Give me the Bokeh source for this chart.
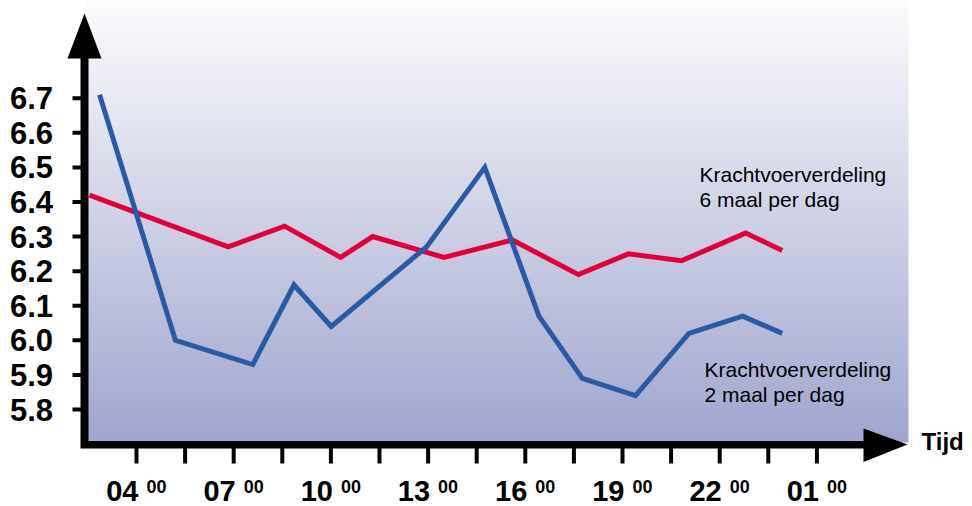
import numpy as np
from bokeh.plotting import figure
from bokeh.models import Range1d
from bokeh.core.properties import value
from bokeh.embed import file_html
from bokeh.resources import INLINE

# ---------------- data ----------------
hours_blue = [2.86, 5.20, 7.59, 8.86, 10.01, 12.95, 14.75, 16.42, 17.76, 19.40, 21.05, 22.71, 23.93]
values_blue = [6.71, 6.00, 5.93, 6.16, 6.04, 6.27, 6.50, 6.07, 5.89, 5.84, 6.02, 6.07, 6.02]

hours_red = [2.55, 6.83, 8.57, 10.30, 11.29, 13.49, 15.60, 17.64, 19.18, 20.82, 22.80, 23.93]
values_red = [6.42, 6.27, 6.33, 6.24, 6.30, 6.24, 6.29, 6.19, 6.25, 6.23, 6.31, 6.26]

y_ticks = [5.8, 5.9, 6.0, 6.1, 6.2, 6.3, 6.4, 6.5, 6.6, 6.7]
y_tick_labels = ["5.8", "5.9", "6.0", "6.1", "6.2", "6.3", "6.4", "6.5", "6.6", "6.7"]
x_ticks = [4, 5.5, 7, 8.5, 10, 11.5, 13, 14.5, 16, 17.5, 19, 20.5, 22, 23.5, 25]
label_hours = [4, 7, 10, 13, 16, 19, 22, 25]
label_text = ["04", "07", "10", "13", "16", "19", "22", "01"]
label_sup = ["00", "00", "00", "00", "00", "00", "00", "00"]

series_red_name = ["Krachtvoerverdeling", "6 maal per dag"]
series_blue_name = ["Krachtvoerverdeling", "2 maal per dag"]
x_title = "Tijd"

RED = "#E2003B"
BLUE = "#2B5AA5"
FONT = "Liberation Sans"

W, H = 972, 506

# ------------- pixel helpers (picture px -> data) -------------
def xd(px):
    return 4 + (px - 136.0) / 32.4

def yd(py):
    return 6.7 - (py - 97.7) / 345.9

p = figure(width=W, height=H,
           x_range=Range1d(xd(0), xd(W)), y_range=Range1d(yd(H), yd(0)),
           output_backend="svg", toolbar_location=None,
           x_axis_location=None, y_axis_location=None,
           min_border_left=0, min_border_right=0,
           min_border_top=0, min_border_bottom=0)
p.grid.visible = False
p.outline_line_color = None
p.background_fill_color = "white"
p.border_fill_color = "white"

# gradient background of the plotting area
N = 440
top = np.array([252, 252, 253], dtype=float)
bot = np.array([160, 165, 206], dtype=float)
img = np.empty((N, 1), dtype=np.uint32)
view = img.view(dtype=np.uint8).reshape((N, 1, 4))
for i in range(N):
    t = i / (N - 1)
    c = bot * (1 - t) + top * t
    view[i, 0, 0] = int(round(c[0]))
    view[i, 0, 1] = int(round(c[1]))
    view[i, 0, 2] = int(round(c[2]))
    view[i, 0, 3] = 255
p.image_rgba(image=[img], x=xd(86), y=yd(442), dw=xd(908) - xd(86),
             dh=yd(0) - yd(442), level="image")

# data lines
p.line(hours_red, values_red, line_color=RED, line_width=5, line_join="miter")
p.line(hours_blue, values_blue, line_color=BLUE, line_width=5, line_join="miter")

# ticks
p.segment(x0=x_ticks, x1=x_ticks, y0=[yd(444)] * len(x_ticks), y1=[yd(463)] * len(x_ticks),
          line_color="black", line_width=4)
p.segment(x0=[xd(72)] * len(y_ticks), x1=[xd(84)] * len(y_ticks), y0=y_ticks, y1=y_ticks,
          line_color="black", line_width=4)

# axis lines with arrow heads
pts = [(84, 13), (101, 58), (88, 58), (88, 440.5), (863, 440.5), (863, 428),
       (907, 444), (863, 461.5), (863, 448), (80, 448), (80, 58), (67, 58)]
p.patch([xd(a) for a, b in pts], [yd(b) for a, b in pts],
        fill_color="black", line_color=None)

# y tick labels
p.text(x=[xd(52.5)] * len(y_ticks), y=y_ticks, text=y_tick_labels,
       text_align="right", text_baseline="middle",
       text_font=value(FONT), text_font_style="bold",
       text_font_size="31px", text_color="black")

# x tick labels with superscript minutes
p.text(x=label_hours, y=[yd(490)] * len(label_hours), text=label_text, x_offset=2,
       text_align="right", text_baseline="middle",
       text_font=value(FONT), text_font_style="bold",
       text_font_size="29px", text_color="black")
p.text(x=label_hours, y=[yd(485.5)] * len(label_hours), text=label_sup, x_offset=10,
       text_align="left", text_baseline="middle",
       text_font=value(FONT), text_font_style="bold",
       text_font_size="18px", text_color="black")

# x title
p.text(x=[xd(921)], y=[yd(440.5)], text=[x_title], text_align="left",
       text_baseline="middle", text_font=value(FONT),
       text_font_style="bold", text_font_size="24px", text_color="black")

# series annotations
p.text(x=[xd(699)] * 2, y=[yd(173.5), yd(199)], text=series_red_name,
       text_align="left", text_baseline="middle",
       text_font=value(FONT), text_font_size="21px", text_color="black")
p.text(x=[xd(704)] * 2, y=[yd(368.5), yd(394)], text=series_blue_name,
       text_align="left", text_baseline="middle",
       text_font=value(FONT), text_font_size="21px", text_color="black")

open("out.html", "w").write(file_html(p, INLINE))
